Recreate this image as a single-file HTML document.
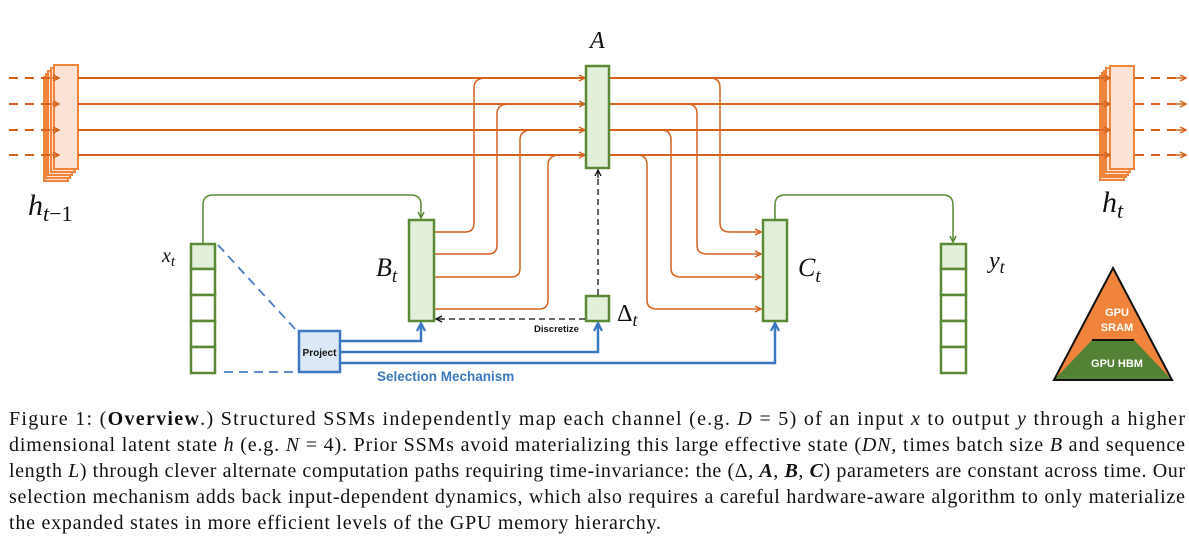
<!DOCTYPE html>
<html><head><meta charset="utf-8"><style>
body{margin:0;background:#fff;}
svg{display:block;}
.cap{font-family:"Liberation Serif",serif;font-size:20px;fill:#111;}
.m{font-family:"Liberation Serif",serif;font-style:italic;fill:#111;}
.s{font-family:"Liberation Sans",sans-serif;font-weight:bold;}
</style></head><body>
<svg width="1189" height="540" viewBox="0 0 1189 540" xmlns="http://www.w3.org/2000/svg">
<defs>
<marker id="ao" markerWidth="8" markerHeight="8" refX="7" refY="4" orient="auto" markerUnits="userSpaceOnUse"><path d="M1,1 L7,4 L1,7" fill="none" stroke="#d6621e" stroke-width="1.5"/></marker>
<marker id="ag" markerWidth="8" markerHeight="8" refX="7" refY="4" orient="auto" markerUnits="userSpaceOnUse"><path d="M1,1 L7,4 L1,7" fill="none" stroke="#5a8a34" stroke-width="1.5"/></marker>
<marker id="ab" markerWidth="10" markerHeight="10" refX="9" refY="5" orient="auto" markerUnits="userSpaceOnUse"><path d="M1,1 L9,5 L1,9" fill="none" stroke="#3a78c0" stroke-width="2.2"/></marker>
<marker id="ak" markerWidth="8" markerHeight="8" refX="7" refY="4" orient="auto" markerUnits="userSpaceOnUse"><path d="M1,1 L7,4 L1,7" fill="none" stroke="#111" stroke-width="1.3"/></marker>
</defs>
<g stroke="#f0843c" stroke-width="2" fill="#fbe3d6">
<rect x="44" y="77" width="24" height="104"/><rect x="46" y="74" width="24" height="104"/><rect x="48" y="71" width="24" height="104"/><rect x="51" y="68" width="24" height="104"/><rect x="54" y="65" width="24" height="104"/>
</g>
<g stroke="#d6621e" stroke-width="2" stroke-dasharray="9,7" fill="none">
<line x1="9" y1="78" x2="58" y2="78"/><line x1="9" y1="104" x2="58" y2="104"/><line x1="9" y1="130" x2="58" y2="130"/><line x1="9" y1="155" x2="58" y2="155"/>
<line x1="1135" y1="78" x2="1183" y2="78"/><line x1="1135" y1="104" x2="1183" y2="104"/><line x1="1135" y1="130" x2="1183" y2="130"/><line x1="1135" y1="155" x2="1183" y2="155"/>
</g>
<g stroke="#d6621e" stroke-width="1.5" fill="none" marker-end="url(#ao)">
<line x1="52" y1="78" x2="59" y2="78"/><line x1="52" y1="104" x2="59" y2="104"/><line x1="52" y1="130" x2="59" y2="130"/><line x1="52" y1="155" x2="59" y2="155"/>
<line x1="1170" y1="78" x2="1186" y2="78"/><line x1="1170" y1="104" x2="1186" y2="104"/><line x1="1170" y1="130" x2="1186" y2="130"/><line x1="1170" y1="155" x2="1186" y2="155"/>
</g>
<g stroke="#d6621e" stroke-width="2" fill="none" marker-end="url(#ao)">
<line x1="78" y1="78" x2="585" y2="78"/><line x1="78" y1="104" x2="585" y2="104"/><line x1="78" y1="130" x2="585" y2="130"/><line x1="78" y1="155" x2="585" y2="155"/>
<line x1="610" y1="78" x2="1108" y2="78"/><line x1="610" y1="104" x2="1108" y2="104"/><line x1="610" y1="130" x2="1108" y2="130"/><line x1="610" y1="155" x2="1108" y2="155"/>
</g>
<g stroke="#d6621e" stroke-width="1.5" fill="none">
<path d="M435,232 H465 Q474,232 474,223 V88 Q474,78 486,78"/>
<path d="M435,254 H488 Q497,254 497,245 V114 Q497,104 509,104"/>
<path d="M435,277 H511 Q520,277 520,268 V140 Q520,130 532,130"/>
<path d="M435,309 H539 Q548,309 548,300 V165 Q548,155 560,155"/>
</g>
<g stroke="#d6621e" stroke-width="1.5" fill="none" marker-end="url(#ao)">
<path d="M710,78 Q720,78 720,88 V223 Q720,232 730,232 H761"/>
<path d="M687,104 Q697,104 697,114 V245 Q697,254 707,254 H761"/>
<path d="M661,130 Q671,130 671,140 V268 Q671,277 681,277 H761"/>
<path d="M637,155 Q647,155 647,165 V300 Q647,309 657,309 H761"/>
</g>
<g stroke="#f0843c" stroke-width="2" fill="#fbe3d6">
<rect x="1100" y="76" width="24" height="104"/><rect x="1102" y="73" width="24" height="104"/><rect x="1104" y="71" width="24" height="104"/><rect x="1106" y="68" width="24" height="104"/><rect x="1110" y="66" width="24" height="103"/>
</g>
<g stroke="#d6621e" stroke-width="1.5" fill="none" marker-end="url(#ao)">
<line x1="1098" y1="78" x2="1110" y2="78"/><line x1="1098" y1="104" x2="1110" y2="104"/><line x1="1098" y1="130" x2="1110" y2="130"/><line x1="1098" y1="155" x2="1110" y2="155"/>
</g>
<g stroke="#5a8a34" stroke-width="2.5" fill="#e2efd9">
<rect x="586" y="66" width="23" height="102"/>
<rect x="409" y="220" width="25" height="101"/>
<rect x="763" y="220" width="24" height="101"/>
<rect x="586" y="296" width="23" height="25"/>
<rect x="191" y="244" width="24" height="25"/>
<rect x="941" y="244" width="25" height="25"/>
</g>
<g stroke="#5a8a34" stroke-width="2.5" fill="#fff">
<rect x="191" y="269" width="24" height="26"/><rect x="191" y="295" width="24" height="26"/><rect x="191" y="321" width="24" height="26"/><rect x="191" y="347" width="24" height="26"/>
<rect x="941" y="269" width="25" height="26"/><rect x="941" y="295" width="25" height="26"/><rect x="941" y="321" width="25" height="26"/><rect x="941" y="347" width="25" height="26"/>
</g>
<g stroke="#5a8a34" stroke-width="1.5" fill="none" marker-end="url(#ag)">
<path d="M203,243 V205 Q203,195 213,195 H411 Q421,195 421,205 V218"/>
<path d="M775,219 V205 Q775,195 785,195 H943 Q953,195 953,205 V242"/>
</g>
<g stroke="#4a7cc8" stroke-width="1.8" stroke-dasharray="9,6" fill="none">
<line x1="218" y1="245" x2="296" y2="330"/>
<line x1="224" y1="372" x2="296" y2="372"/>
</g>
<rect x="299" y="331" width="41" height="41" fill="#dce8f5" stroke="#3a78c0" stroke-width="2.5"/>
<text x="319.5" y="356" class="s" font-size="10" text-anchor="middle" fill="#111">Project</text>
<g stroke="#3a78c0" stroke-width="2.5" fill="none" marker-end="url(#ab)">
<path d="M341,341 H421 V323"/>
<path d="M341,352 H598 V323"/>
<path d="M341,363 H775 V323"/>
</g>
<text x="377" y="381" class="s" font-size="13.5" fill="#3a78c0">Selection Mechanism</text>
<g stroke="#111" stroke-width="1.3" stroke-dasharray="6,4" fill="none">
<line x1="598" y1="295" x2="598" y2="176"/>
<line x1="585" y1="319" x2="442" y2="319"/>
</g>
<g stroke="#111" stroke-width="1.3" fill="none" marker-end="url(#ak)">
<line x1="598" y1="178" x2="598" y2="170"/>
<line x1="444" y1="319" x2="436" y2="319"/>
</g>
<text x="534" y="332" class="s" font-size="9.5" fill="#111">Discretize</text>
<text x="590" y="48" class="m" font-size="24">A</text>
<text x="28" y="215" class="m" font-size="30">h<tspan font-size="22" dy="6">t</tspan><tspan font-size="22" font-style="normal">−1</tspan></text>
<text x="1102" y="212" class="m" font-size="30">h<tspan font-size="22" dy="6">t</tspan></text>
<text x="162" y="262" class="m" font-size="20">x<tspan font-size="15" dy="4">t</tspan></text>
<text x="376" y="276" class="m" font-size="26">B<tspan font-size="19" dy="6">t</tspan></text>
<text x="798" y="276" class="m" font-size="26">C<tspan font-size="19" dy="6">t</tspan></text>
<text x="989" y="268" class="m" font-size="24">y<tspan font-size="18" dy="5">t</tspan></text>
<text x="617" y="321" font-family="Liberation Serif,serif" font-size="24" fill="#111">Δ<tspan class="m" font-size="18" dy="5">t</tspan></text>
<polygon points="1113,268 1172,380 1054,380" fill="#f0843c"/>
<polygon points="1092,340 1134,340 1172,380 1054,380" fill="#548235"/>
<line x1="1092" y1="340" x2="1134" y2="340" stroke="#111" stroke-width="2"/>
<polygon points="1113,268 1172,380 1054,380" fill="none" stroke="#111" stroke-width="2"/>
<text x="1117" y="316" class="s" font-size="11" fill="#fff" text-anchor="middle">GPU</text>
<text x="1117" y="331" class="s" font-size="11" fill="#fff" text-anchor="middle">SRAM</text>
<text x="1117" y="367" class="s" font-size="11" fill="#fff" text-anchor="middle">GPU HBM</text>
<text x="9" y="425" class="cap" textLength="1176" lengthAdjust="spacing">Figure 1: (<tspan font-weight="bold">Overview</tspan>.) Structured SSMs independently map each channel (e.g. <tspan font-style="italic">D</tspan> = 5) of an input <tspan font-style="italic">x</tspan> to output <tspan font-style="italic">y</tspan> through a higher</text>
<text x="9" y="451" class="cap" textLength="1176" lengthAdjust="spacing">dimensional latent state <tspan font-style="italic">h</tspan> (e.g. <tspan font-style="italic">N</tspan> = 4). Prior SSMs avoid materializing this large effective state (<tspan font-style="italic">DN</tspan>, times batch size <tspan font-style="italic">B</tspan> and sequence</text>
<text x="9" y="477" class="cap" textLength="1176" lengthAdjust="spacing">length <tspan font-style="italic">L</tspan>) through clever alternate computation paths requiring time-invariance: the (Δ, <tspan font-weight="bold" font-style="italic">A</tspan>, <tspan font-weight="bold" font-style="italic">B</tspan>, <tspan font-weight="bold" font-style="italic">C</tspan>) parameters are constant across time. Our</text>
<text x="9" y="503" class="cap" textLength="1176" lengthAdjust="spacing">selection mechanism adds back input-dependent dynamics, which also requires a careful hardware-aware algorithm to only materialize</text>
<text x="9" y="529" class="cap" textLength="652" lengthAdjust="spacing">the expanded states in more efficient levels of the GPU memory hierarchy.</text>
</svg>
</body></html>
